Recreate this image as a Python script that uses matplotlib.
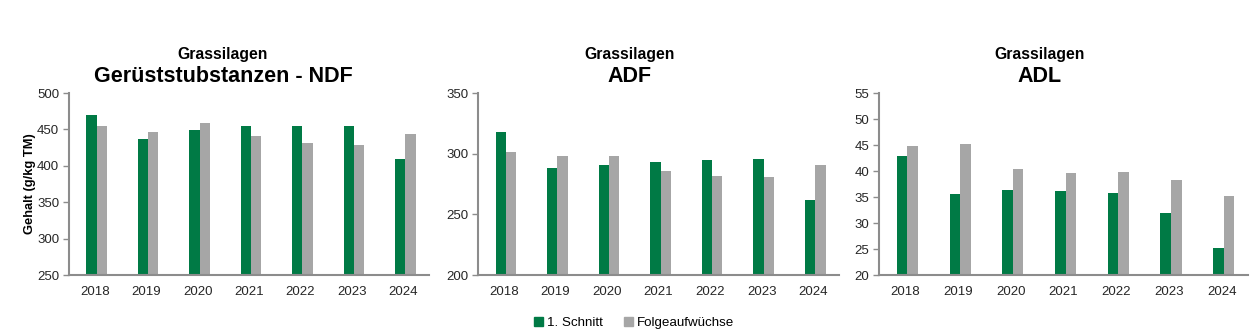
import numpy as np
import matplotlib.pyplot as plt
from matplotlib.patches import Patch

plt.rcParams['font.family'] = ['Liberation Sans', 'DejaVu Sans']

jahre = ["2018", "2019", "2020", "2021", "2022", "2023", "2024"]

ndf_schnitt1 = [470, 437, 449, 454, 455, 455, 410]
ndf_folge = [455, 447, 459, 441, 432, 428, 443]

adf_schnitt1 = [318, 288, 291, 293, 295, 296, 262]
adf_folge = [301, 298, 298, 286, 282, 281, 291]

adl_schnitt1 = [42.9, 35.6, 36.4, 36.2, 35.8, 31.9, 25.1]
adl_folge = [44.9, 45.1, 40.3, 39.7, 39.9, 38.3, 35.1]

titel = ["Gerüststubstanzen - NDF", "ADF", "ADL"]
y_bereiche = [(250, 500, 50), (200, 350, 50), (20, 55, 5)]

GRUEN = "#007a45"
GRAU = "#a6a6a6"
ACHSE = "#8c8c8c"

W, H = 1256, 333
fig = plt.figure(figsize=(W / 100, H / 100), dpi=100)

# Achsenpositionen in Pixeln: links, rechts, oben, unten
boxen = [(69, 429), (478, 839), (879, 1248)]
oben, unten = 93, 275
titel_x = [223, 630, 1040]

daten = [(ndf_schnitt1, ndf_folge), (adf_schnitt1, adf_folge), (adl_schnitt1, adl_folge)]

x = np.arange(len(jahre))
b = 0.2

for i, ((l, r), (s1, fo), (ymin, ymax, step)) in enumerate(zip(boxen, daten, y_bereiche)):
    ax = fig.add_axes([l / W, 1 - unten / H, (r - l) / W, (unten - oben) / H])
    ax.bar(x - b / 2 + 0.04, s1, width=b, color=GRUEN, zorder=2)
    ax.bar(x + b / 2 + 0.04, fo, width=b, color=GRAU, zorder=2)
    ax.set_xlim(-0.5, len(jahre) - 0.5)
    ax.set_ylim(ymin, ymax)
    ax.set_yticks(np.arange(ymin, ymax + step / 2, step))
    ax.set_xticks(x)
    ax.set_xticklabels(jahre)
    for s in ["top", "right"]:
        ax.spines[s].set_visible(False)
    for s in ["left", "bottom"]:
        ax.spines[s].set_color(ACHSE)
        ax.spines[s].set_linewidth(1.5)
    ax.tick_params(axis="y", length=4, width=1, color=ACHSE, labelsize=9.5,
                   labelcolor="#262626", pad=3)
    ax.tick_params(axis="x", length=0, labelsize=9.5, labelcolor="#262626", pad=8)

    fig.text(titel_x[i] / W, 1 - 55 / H, "Grassilagen", ha="center", va="center",
             fontsize=11.3, fontweight="bold")
    fig.text(titel_x[i] / W, 1 - 77 / H, titel[i], ha="center", va="center",
             fontsize=15.5, fontweight="bold")

    if i == 0:
        ax.set_ylabel("Gehalt (g/kg TM)", fontsize=9.3, fontweight="bold", labelpad=1)

handles = [Patch(color=GRUEN, label="1. Schnitt"), Patch(color=GRAU, label="Folgeaufwüchse")]
fig.legend(handles=handles, loc="center", bbox_to_anchor=(634 / W, 1 - 323 / H), ncol=2,
           frameon=False, fontsize=9.6, handlelength=0.65, handleheight=0.65,
           handletextpad=0.3, columnspacing=1.6)

fig.savefig("out.png", dpi=100)
